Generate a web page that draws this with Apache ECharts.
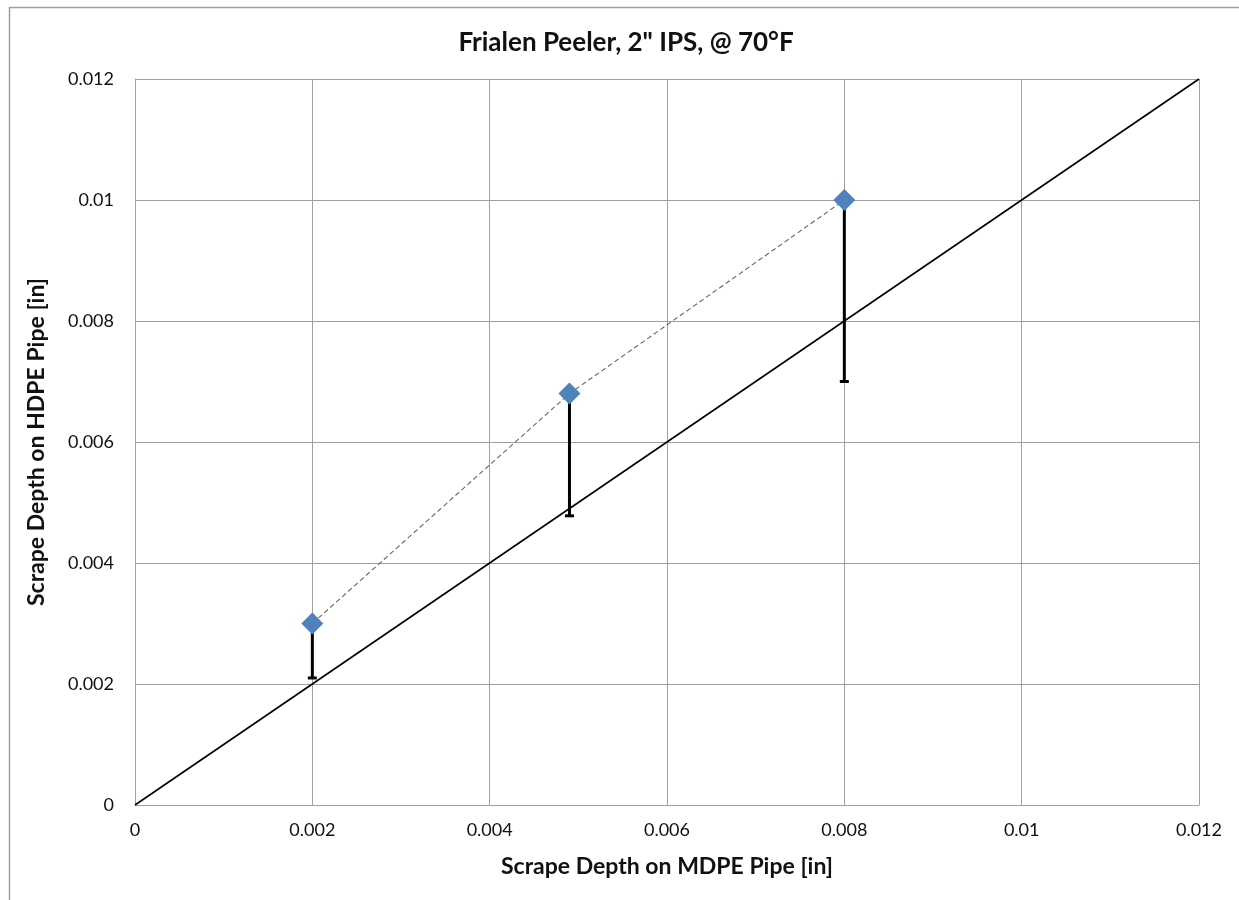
<!DOCTYPE html>
<html>
<head>
<meta charset="utf-8">
<script src="https://cdn.jsdelivr.net/npm/echarts@6/dist/echarts.min.js"></script>
<style>
html,body{margin:0;padding:0;background:#fff;}
#chart{width:1239px;height:900px;}
</style>
</head>
<body>
<div id="chart"></div>
<script>
const titleText = 'Frialen Peeler, 2" IPS, @ 70°F';
const xAxisName = 'Scrape Depth on MDPE Pipe [in]';
const yAxisName = 'Scrape Depth on HDPE Pipe [in]';
const xVals = [0.002, 0.0049, 0.008];
const yVals = [0.003, 0.0068, 0.010];
const lowVals = [0.0021, 0.00478, 0.007];
const refLineX = [0, 0.012];
const refLineY = [0, 0.012];
const tickVals = [0, 0.002, 0.004, 0.006, 0.008, 0.01, 0.012];

const font = 'Lato, "Open Sans", sans-serif';
const chart = echarts.init(document.getElementById('chart'), null, {renderer: 'canvas'});

const points = xVals.map((x, i) => [x, yVals[i]]);
const bars = xVals.map((x, i) => [x, yVals[i], lowVals[i]]);
const ref = refLineX.map((x, i) => [x, refLineY[i]]);

function fmt(v) {
  const t = tickVals.find(t => Math.abs(t - v) < 1e-9);
  return t === undefined ? '' : String(t);
}

chart.setOption({
  animation: false,
  backgroundColor: '#fff',
  title: {
    text: titleText,
    left: 621, top: 25, textAlign: 'center',
    textStyle: {fontFamily: font, fontSize: 26, fontWeight: 'bold', color: '#111'}
  },
  graphic: [{
    type: 'rect', left: 7, top: 5, silent: true,
    shape: {x: 0, y: 0, width: 1400, height: 1100},
    style: {fill: 'none', stroke: '#a0a0a0', lineWidth: 1.5}
  }],
  grid: {left: 135, right: 40, top: 79, bottom: 95, containLabel: false},
  xAxis: {
    type: 'value', min: 0, max: 0.012, interval: 0.002,
    name: xAxisName, nameLocation: 'middle', nameGap: 50,
    nameTextStyle: {fontFamily: font, fontSize: 23, fontWeight: 'bold', color: '#111'},
    axisLine: {show: true, lineStyle: {color: '#a0a0a0', width: 1}},
    axisTick: {show: false},
    splitLine: {show: true, lineStyle: {color: '#a0a0a0', width: 1}},
    axisLabel: {fontFamily: font, fontSize: 18, color: '#111', margin: 16, formatter: fmt}
  },
  yAxis: {
    type: 'value', min: 0, max: 0.012, interval: 0.002,
    name: yAxisName, nameLocation: 'middle', nameGap: 87, nameRotate: 90,
    nameTextStyle: {fontFamily: font, fontSize: 23, fontWeight: 'bold', color: '#111'},
    axisLine: {show: true, lineStyle: {color: '#a0a0a0', width: 1}},
    axisTick: {show: false},
    splitLine: {show: true, lineStyle: {color: '#a0a0a0', width: 1}},
    axisLabel: {fontFamily: font, fontSize: 18, color: '#111', margin: 21, formatter: fmt}
  },
  series: [
    {
      type: 'line', data: ref, showSymbol: false, silent: true,
      lineStyle: {color: '#000', width: 1.6}, z: 2
    },
    {
      type: 'line', data: points, showSymbol: false, silent: true,
      lineStyle: {color: '#666', width: 1.1, type: [5, 3]}, z: 3
    },
    {
      type: 'custom', data: bars, z: 4, silent: true,
      renderItem: function (params, api) {
        const top = api.coord([api.value(0), api.value(1)]);
        const bot = api.coord([api.value(0), api.value(2)]);
        return {
          type: 'group',
          children: [
            {type: 'line', shape: {x1: top[0], y1: top[1], x2: bot[0], y2: bot[1]},
             style: {stroke: '#000', lineWidth: 3}},
            {type: 'line', shape: {x1: bot[0] - 4.5, y1: bot[1], x2: bot[0] + 4.5, y2: bot[1]},
             style: {stroke: '#000', lineWidth: 3}}
          ]
        };
      }
    },
    {
      type: 'scatter', data: points, symbol: 'diamond', symbolSize: [22, 22], z: 5,
      itemStyle: {color: '#4f81bd', opacity: 1}
    }
  ]
});
</script>
</body>
</html>
